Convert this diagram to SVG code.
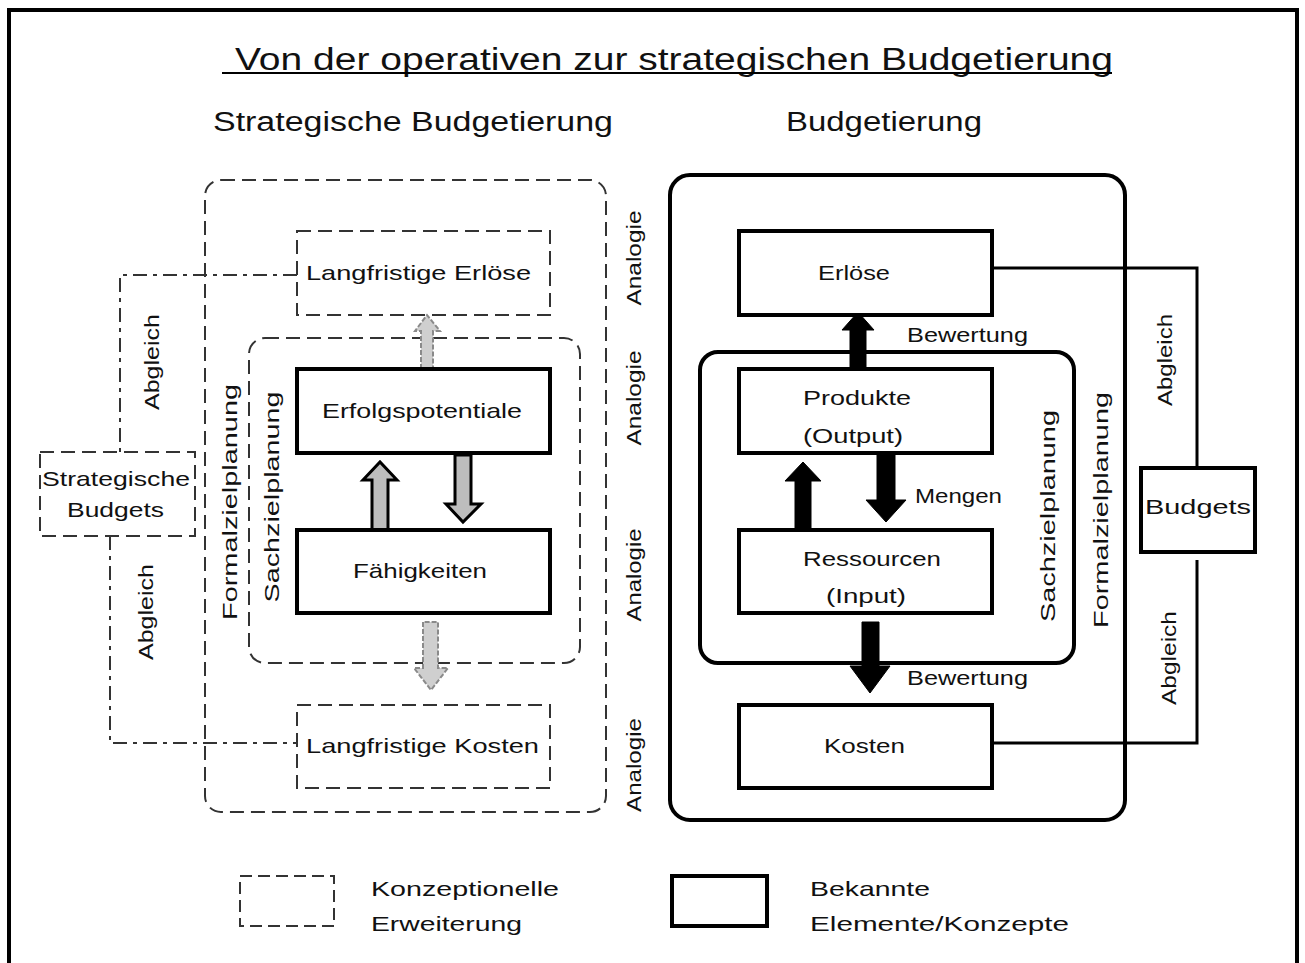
<svg xmlns="http://www.w3.org/2000/svg" width="1305" height="963" viewBox="0 0 1305 963">
  <style>
    .t { font-family: "Liberation Sans", "DejaVu Sans", sans-serif; fill: #111; }
    .h1 { font-size: 31px; }
    .h2 { font-size: 27px; }
    .lbl { font-size: 21px; }
    .side { font-size: 21px; }
    .solid { fill: #fff; stroke: #000; stroke-width: 4; }
    .frame { fill: none; stroke: #000; stroke-width: 4; }
    .dash { fill: none; stroke: #333; stroke-width: 2; stroke-dasharray: 14 7; }
    .dashdot { fill: none; stroke: #333; stroke-width: 2; stroke-dasharray: 14 6 4 6; }
    .line { fill: none; stroke: #000; stroke-width: 3; }
    .arrowHollow { fill: #bdbdbd; stroke: #000; stroke-width: 3; stroke-linejoin: miter; }
    .arrowFaint { fill: #cfcfcf; stroke: #8a8a8a; stroke-width: 2; stroke-dasharray: 5 2; }
    .arrowBlack { fill: #000; stroke: #000; stroke-width: 1; }
  </style>

  <rect width="1305" height="963" fill="#fff"/>
  <!-- sheet border -->
  <path d="M9,963 V10 H1297 V963" fill="none" stroke="#000" stroke-width="4"/>

  <!-- headings -->
  <g id="title">
    <text class="t h1" x="235" y="70" textLength="878" lengthAdjust="spacingAndGlyphs">Von der operativen zur strategischen Budgetierung</text>
    <line x1="222" y1="73" x2="1112" y2="73" stroke="#000" stroke-width="2"/>
  </g>
  <g id="heading-left">
    <text class="t h2" x="213" y="131" textLength="400" lengthAdjust="spacingAndGlyphs">Strategische Budgetierung</text>
  </g>
  <g id="heading-right">
    <text class="t h2" x="786" y="131" textLength="196" lengthAdjust="spacingAndGlyphs">Budgetierung</text>
  </g>

  <!-- strategic side: containers -->
  <g id="formalziel-strategisch">
    <rect class="dash" x="205" y="180" width="401" height="632" rx="16"/>
    <text class="t side" transform="translate(237,502) rotate(-90)" text-anchor="middle" textLength="236" lengthAdjust="spacingAndGlyphs">Formalzielplanung</text>
  </g>
  <g id="sachziel-strategisch">
    <rect class="dash" x="249" y="338" width="331" height="325" rx="16"/>
    <text class="t side" transform="translate(279,497) rotate(-90)" text-anchor="middle" textLength="211" lengthAdjust="spacingAndGlyphs">Sachzielplanung</text>
  </g>

  <!-- connectors -->
  <g id="connectors">
    <!-- Abgleich, strategic side -->
    <path class="dashdot" d="M297,275 H120 V452"/>
    <path class="dashdot" d="M110,536 V743 H297"/>
    <!-- Abgleich, operative side -->
    <path class="line" d="M992,268 H1197 V468"/>
    <path class="line" d="M992,743 H1197 V560"/>

    <!-- strategic arrows -->
    <path class="arrowFaint" d="M421,369 V331 H415 L427,315 L440,331 H433 V369 Z"/>
    <path class="arrowFaint" d="M423,622 V668 H414 L431,690 L448,668 H438 V622 Z"/>
    <path class="arrowHollow" d="M372,530 V480 H363 L380,462 L397,480 H388 V530 Z"/>
    <path class="arrowHollow" d="M455,455 V504 H446 L463,522 L481,504 H471 V455 Z"/>

    <!-- operative arrows -->
    <path class="arrowBlack" d="M850,369 V330 H842 L858,312 L874,330 H866 V369 Z"/>
    <path class="arrowBlack" d="M795,530 V481 H785 L803,462 L821,481 H811 V530 Z"/>
    <path class="arrowBlack" d="M877,455 V500 H866 L886,522 L906,500 H895 V455 Z"/>
    <path class="arrowBlack" d="M862,622 V666 H850 L870,693 L890,666 H879 V622 Z"/>
  </g>

  <!-- connector and arrow labels -->
  <g id="connector-labels">
    <text class="t side" transform="translate(159,362) rotate(-90)" text-anchor="middle" textLength="96" lengthAdjust="spacingAndGlyphs">Abgleich</text>
    <text class="t side" transform="translate(153,612) rotate(-90)" text-anchor="middle" textLength="96" lengthAdjust="spacingAndGlyphs">Abgleich</text>
    <text class="t side" transform="translate(1172,360) rotate(-90)" text-anchor="middle" textLength="92" lengthAdjust="spacingAndGlyphs">Abgleich</text>
    <text class="t side" transform="translate(1176,658) rotate(-90)" text-anchor="middle" textLength="94" lengthAdjust="spacingAndGlyphs">Abgleich</text>
    <text class="t lbl" x="907" y="342" textLength="121" lengthAdjust="spacingAndGlyphs">Bewertung</text>
    <text class="t lbl" x="915" y="503" textLength="87" lengthAdjust="spacingAndGlyphs">Mengen</text>
    <text class="t lbl" x="907" y="685" textLength="121" lengthAdjust="spacingAndGlyphs">Bewertung</text>
    <text class="t side" transform="translate(641,258) rotate(-90)" text-anchor="middle" textLength="95" lengthAdjust="spacingAndGlyphs">Analogie</text>
    <text class="t side" transform="translate(641,398) rotate(-90)" text-anchor="middle" textLength="95" lengthAdjust="spacingAndGlyphs">Analogie</text>
    <text class="t side" transform="translate(641,575) rotate(-90)" text-anchor="middle" textLength="93" lengthAdjust="spacingAndGlyphs">Analogie</text>
    <text class="t side" transform="translate(641,765) rotate(-90)" text-anchor="middle" textLength="94" lengthAdjust="spacingAndGlyphs">Analogie</text>
  </g>

  <!-- strategic nodes -->
  <g id="langfristige-erloese">
    <rect class="dash" x="297" y="231" width="253" height="84"/>
    <text class="t lbl" x="306" y="280" textLength="225" lengthAdjust="spacingAndGlyphs">Langfristige Erlöse</text>
  </g>
  <g id="erfolgspotentiale">
    <rect class="solid" x="297" y="369" width="253" height="84"/>
    <text class="t lbl" x="322" y="418" textLength="200" lengthAdjust="spacingAndGlyphs">Erfolgspotentiale</text>
  </g>
  <g id="faehigkeiten">
    <rect class="solid" x="297" y="530" width="253" height="83"/>
    <text class="t lbl" x="353" y="578" textLength="134" lengthAdjust="spacingAndGlyphs">Fähigkeiten</text>
  </g>
  <g id="langfristige-kosten">
    <rect class="dash" x="297" y="705" width="253" height="83"/>
    <text class="t lbl" x="306" y="753" textLength="233" lengthAdjust="spacingAndGlyphs">Langfristige Kosten</text>
  </g>
  <g id="strategische-budgets">
    <rect class="dash" x="40" y="452" width="155" height="84"/>
    <text class="t lbl" x="42" y="486" textLength="148" lengthAdjust="spacingAndGlyphs">Strategische</text>
    <text class="t lbl" x="67" y="517" textLength="97" lengthAdjust="spacingAndGlyphs">Budgets</text>
  </g>

  <!-- operative side: containers -->
  <g id="formalziel-operativ">
    <rect class="frame" x="670" y="175" width="455" height="645" rx="20"/>
    <text class="t side" transform="translate(1108,510) rotate(-90)" text-anchor="middle" textLength="236" lengthAdjust="spacingAndGlyphs">Formalzielplanung</text>
  </g>
  <g id="sachziel-operativ">
    <rect class="frame" x="700" y="352" width="374" height="311" rx="18"/>
    <text class="t side" transform="translate(1055,516) rotate(-90)" text-anchor="middle" textLength="212" lengthAdjust="spacingAndGlyphs">Sachzielplanung</text>
  </g>

  <!-- operative nodes -->
  <g id="erloese">
    <rect class="solid" x="739" y="231" width="253" height="84"/>
    <text class="t lbl" x="818" y="280" textLength="72" lengthAdjust="spacingAndGlyphs">Erlöse</text>
  </g>
  <g id="produkte">
    <rect class="solid" x="739" y="369" width="253" height="84"/>
    <text class="t lbl" x="803" y="405" textLength="108" lengthAdjust="spacingAndGlyphs">Produkte</text>
    <text class="t lbl" x="803" y="443" textLength="100" lengthAdjust="spacingAndGlyphs">(Output)</text>
  </g>
  <g id="ressourcen">
    <rect class="solid" x="739" y="530" width="253" height="83"/>
    <text class="t lbl" x="803" y="566" textLength="138" lengthAdjust="spacingAndGlyphs">Ressourcen</text>
    <text class="t lbl" x="826" y="603" textLength="80" lengthAdjust="spacingAndGlyphs">(Input)</text>
  </g>
  <g id="kosten">
    <rect class="solid" x="739" y="705" width="253" height="83"/>
    <text class="t lbl" x="824" y="753" textLength="81" lengthAdjust="spacingAndGlyphs">Kosten</text>
  </g>
  <g id="budgets">
    <rect class="solid" x="1141" y="468" width="114" height="84"/>
    <text class="t lbl" x="1145" y="514" textLength="106" lengthAdjust="spacingAndGlyphs">Budgets</text>
  </g>

  <!-- legend -->
  <g id="legend-konzeptionell">
    <rect class="dash" x="240" y="876" width="94" height="50" style="stroke-dasharray: 12 6"/>
    <text class="t lbl" x="371" y="896" textLength="188" lengthAdjust="spacingAndGlyphs">Konzeptionelle</text>
    <text class="t lbl" x="371" y="931" textLength="151" lengthAdjust="spacingAndGlyphs">Erweiterung</text>
  </g>
  <g id="legend-bekannt">
    <rect class="solid" x="672" y="876" width="95" height="50"/>
    <text class="t lbl" x="810" y="896" textLength="120" lengthAdjust="spacingAndGlyphs">Bekannte</text>
    <text class="t lbl" x="810" y="931" textLength="259" lengthAdjust="spacingAndGlyphs">Elemente/Konzepte</text>
  </g>
</svg>
